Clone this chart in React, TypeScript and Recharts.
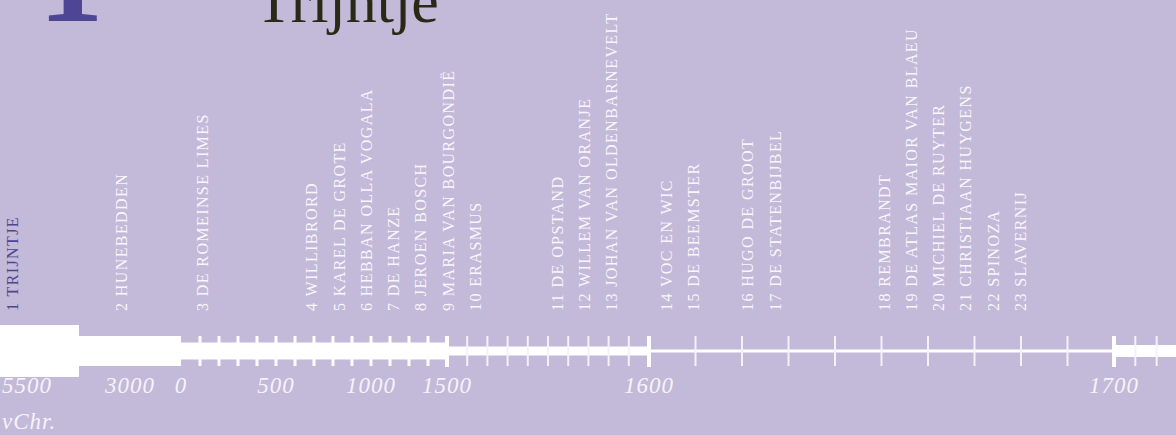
import React from 'react';
import { ComposedChart, XAxis, YAxis, ReferenceArea, ReferenceLine, Scatter } from 'recharts';

// piecewise time scale: year -> horizontal unit
const YEAR_STOPS = [-5500, -3000, 0, 500, 1000, 1500, 1600, 1700, 1730];
const UNIT_STOPS = [0, 79, 181, 276, 371, 447, 649, 1114, 1178];

// periods of the time bar
const periodFrom = [-5500, -3000, 0, 1500, 1600, 1700];
const periodTo = [-3000, 0, 1500, 1600, 1700, 1730];
const periodThickness = [52, 30, 17, 9, 3, 12];

// ticks on the bar
const centuryTicks = [100, 200, 300, 400, 500, 600, 700, 800, 900, 1000, 1125, 1250, 1375];
const decadeTicks = [
  1510, 1520, 1530, 1540, 1550, 1560, 1570, 1580, 1590,
  1610, 1620, 1630, 1640, 1650, 1660, 1670, 1680, 1690,
  1710, 1720,
];
const boundaryTicks = [1500, 1600, 1700];

// year labels
const yearLabels = [-5500, -3000, 0, 500, 1000, 1500, 1600, 1700];
const yearText = ['5500', '3000', '0', '500', '1000', '1500', '1600', '1700'];

// canon windows
const eventNumbers = [1, 2, 3, 4, 5, 6, 7, 8, 9, 10, 11, 12, 13, 14, 15, 16, 17, 18, 19, 20, 21, 22, 23];
const eventNames = [
  'TRIJNTJE', 'HUNEBEDDEN', 'DE ROMEINSE LIMES', 'WILLIBRORD', 'KAREL DE GROTE',
  'HEBBAN OLLA VOGALA', 'DE HANZE', 'JEROEN BOSCH', 'MARIA VAN BOURGONDIË', 'ERASMUS',
  'DE OPSTAND', 'WILLEM VAN ORANJE', 'JOHAN VAN OLDENBARNEVELT', 'VOC EN WIC', 'DE BEEMSTER',
  'HUGO DE GROOT', 'DE STATENBIJBEL', 'REMBRANDT', 'DE ATLAS MAIOR VAN BLAEU',
  'MICHIEL DE RUYTER', 'CHRISTIAAN HUYGENS', 'SPINOZA', 'SLAVERNIJ',
];
const eventColumns = [0, 4, 7, 11, 12, 13, 14, 15, 16, 17, 20, 21, 22, 24, 25, 27, 28, 32, 33, 34, 35, 36, 37];
const ACTIVE_EVENT = 1;

const W = 1176;
const H = 435;
const BAR_Y = 351;
const TICK_HALF = 15;
const LABEL_BASE = 311;
const YEAR_BASE = 393;
const COL_W = 27.25;
const COL_X0 = 12;

const BG = '#c3b9d8';
const WHITE = '#ffffff';
const SERIF = '"Liberation Serif", "DejaVu Serif", serif';

const toU = (year: number) => {
  for (let i = 0; i < YEAR_STOPS.length - 1; i++) {
    if (year <= YEAR_STOPS[i + 1]) {
      const t = (year - YEAR_STOPS[i]) / (YEAR_STOPS[i + 1] - YEAR_STOPS[i]);
      return UNIT_STOPS[i] + t * (UNIT_STOPS[i + 1] - UNIT_STOPS[i]);
    }
  }
  return UNIT_STOPS[UNIT_STOPS.length - 1];
};

// year labels; the 3000 label sits in the middle of its block
const yearData = yearLabels.map((yr, i) => ({
  u: i === 1 ? (toU(yr) + toU(yearLabels[2])) / 2 : toU(yr),
  y: YEAR_BASE,
  text: yearText[i],
  first: i === 0,
}));

const eventData = eventNumbers.map((n, i) => ({
  column: eventColumns[i],
  y: LABEL_BASE,
  text: `${n} ${eventNames[i]}`,
  active: n === ACTIVE_EVENT,
}));

const colDomain: [number, number] = [-COL_X0 / COL_W, (W - COL_X0) / COL_W];

const EventLabel = (props: any) => {
  const { cx, cy, payload } = props;
  return (
    <text
      transform={`translate(${cx + 5.5},${cy}) rotate(-90)`}
      textAnchor="start"
      fontFamily={SERIF}
      fontSize={16}
      letterSpacing={1.4}
      fill={payload.active ? '#4e4594' : '#f8f6fc'}
    >
      {payload.text}
    </text>
  );
};

const YearLabel = (props: any) => {
  const { cx, cy, payload } = props;
  if (payload.first) {
    return (
      <text fontFamily={SERIF} fontStyle="italic" fontSize={23} letterSpacing={1} fill="#f5f3fa">
        <tspan x={cx + 2} y={cy}>{payload.text}</tspan>
        <tspan x={cx + 2} y={cy + 36}>vChr.</tspan>
      </text>
    );
  }
  return (
    <text x={cx} y={cy} textAnchor="middle" fontFamily={SERIF} fontStyle="italic" fontSize={23} letterSpacing={1} fill="#f5f3fa">
      {payload.text}
    </text>
  );
};

export default function App() {
  return (
    <div style={{ position: 'absolute', left: 0, top: 0, width: W, height: H, background: BG, overflow: 'hidden' }}>
      <ComposedChart width={W} height={H} margin={{ top: 0, right: 0, bottom: 0, left: 0 }}>
        <XAxis xAxisId="time" dataKey="u" type="number" domain={[0, W]} hide allowDataOverflow />
        <XAxis xAxisId="col" dataKey="column" type="number" domain={colDomain} hide allowDataOverflow />
        <YAxis dataKey="y" type="number" domain={[0, H]} reversed hide allowDataOverflow />

        {periodFrom.map((from, i) => (
          <ReferenceArea
            key={`p-${i}`}
            xAxisId="time"
            x1={toU(from)}
            x2={toU(periodTo[i])}
            y1={BAR_Y - periodThickness[i] / 2}
            y2={BAR_Y + periodThickness[i] / 2}
            fill={WHITE}
            fillOpacity={1}
            stroke="none"
            ifOverflow="visible"
          />
        ))}

        {centuryTicks.map((y) => (
          <ReferenceLine
            key={`c-${y}`}
            xAxisId="time"
            segment={[{ x: toU(y), y: BAR_Y - TICK_HALF }, { x: toU(y), y: BAR_Y + TICK_HALF }]}
            stroke={WHITE}
            strokeWidth={3}
            ifOverflow="visible"
          />
        ))}
        {decadeTicks.map((y) => (
          <ReferenceLine
            key={`d-${y}`}
            xAxisId="time"
            segment={[{ x: toU(y), y: BAR_Y - TICK_HALF }, { x: toU(y), y: BAR_Y + TICK_HALF }]}
            stroke="#f4f1f8"
            strokeWidth={2}
            ifOverflow="visible"
          />
        ))}
        {boundaryTicks.map((y) => (
          <ReferenceLine
            key={`b-${y}`}
            xAxisId="time"
            segment={[{ x: toU(y), y: BAR_Y - TICK_HALF }, { x: toU(y), y: BAR_Y + TICK_HALF + 1 }]}
            stroke={WHITE}
            strokeWidth={4}
            ifOverflow="visible"
          />
        ))}

        <Scatter xAxisId="time" data={yearData} dataKey="y" shape={YearLabel} isAnimationActive={false} />
        <Scatter xAxisId="col" data={eventData} dataKey="y" shape={EventLabel} isAnimationActive={false} />
      </ComposedChart>

      <svg width={W} height={60} style={{ position: 'absolute', left: 0, top: 0 }}>
        <text x={71} y={21} textAnchor="middle" fontFamily={SERIF} fontWeight="bold" fontSize={130} fill="#4f4595">
          1
        </text>
        <text x={255} y={22} fontFamily={SERIF} fontSize={62} fill="#2c2817">
          Trijntje
        </text>
      </svg>
    </div>
  );
}
